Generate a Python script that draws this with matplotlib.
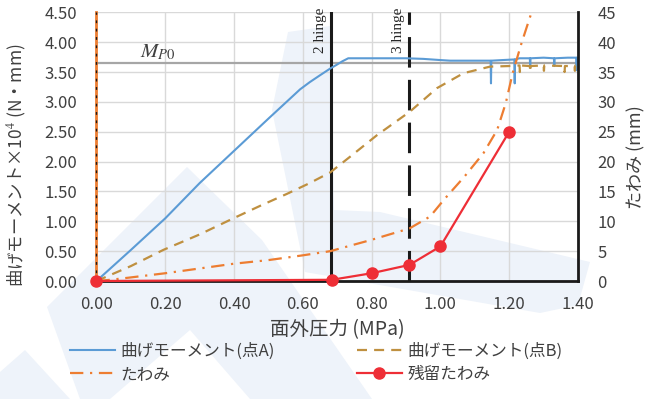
import matplotlib
matplotlib.use("Agg")
import matplotlib.pyplot as plt
from matplotlib.patches import Polygon
from matplotlib.lines import Line2D

plt.rcParams['font.family'] = ['Noto Sans CJK JP', 'DejaVu Sans']
plt.rcParams['mathtext.fontset'] = 'stix'

# ---------------- data ----------------
# 曲げモーメント (点A)  [x10^4 N・mm]
p_A = [0, 0.1, 0.2, 0.3, 0.4, 0.5, 0.592, 0.62, 0.651, 0.68, 0.698, 0.715, 0.732,
       0.80, 0.90, 0.95, 1.00, 1.028, 1.10, 1.146, 1.147, 1.148, 1.18, 1.215, 1.216, 1.217,
       1.23, 1.26, 1.261, 1.262, 1.30, 1.33, 1.331, 1.332, 1.37, 1.395, 1.396, 1.397, 1.40]
M_A = [0, 0.52, 1.05, 1.64, 2.18, 2.72, 3.21, 3.33, 3.45, 3.56, 3.62, 3.68, 3.73,
       3.73, 3.73, 3.72, 3.70, 3.69, 3.69, 3.69, 3.31, 3.69, 3.70, 3.71, 3.31, 3.71,
       3.73, 3.73, 3.57, 3.73, 3.74, 3.73, 3.60, 3.73, 3.74, 3.74, 3.53, 3.74, 3.73]

# 曲げモーメント (点B)
p_B = [0, 0.1, 0.194, 0.3, 0.398, 0.48, 0.554, 0.62, 0.68, 0.737, 0.815, 0.912, 0.99,
       1.067, 1.144, 1.20, 1.23, 1.231, 1.232, 1.26, 1.261, 1.262, 1.30, 1.301, 1.302,
       1.36, 1.361, 1.362, 1.39, 1.391, 1.392, 1.40]
M_B = [0, 0.25, 0.52, 0.78, 1.05, 1.27, 1.46, 1.64, 1.82, 2.08, 2.44, 2.84, 3.23,
       3.48, 3.59, 3.60, 3.61, 3.50, 3.61, 3.60, 3.50, 3.60, 3.61, 3.52, 3.61,
       3.60, 3.50, 3.60, 3.60, 3.52, 3.61, 3.60]

# たわみ [mm]
p_D = [0, 0.04, 0.1, 0.2, 0.3, 0.4, 0.5, 0.6, 0.68, 0.8, 0.91, 0.97, 1.01, 1.07,
       1.125, 1.165, 1.19, 1.21, 1.235, 1.265]
D = [0, 0.2, 0.6, 1.3, 2.1, 2.9, 3.5, 4.3, 5.0, 6.9, 8.8, 10.8, 13.6, 17.5,
     21.4, 25.3, 29.8, 34.8, 39.7, 45.0]

# 残留たわみ [mm]
p_R = [0, 0.684, 0.80, 0.91, 1.00, 1.20]
R = [0, 0.2, 1.3, 2.7, 5.8, 25.0]

hinge2 = 0.682
hinge3 = 0.91
Mp0 = 3.65

x_ticks = [0.0, 0.2, 0.4, 0.6, 0.8, 1.0, 1.2, 1.4]
y_ticks = [0, 0.5, 1.0, 1.5, 2.0, 2.5, 3.0, 3.5, 4.0, 4.5]
y2_ticks = [0, 5, 10, 15, 20, 25, 30, 35, 40, 45]

# ---------------- figure ----------------
W, H = 651, 399
fig = plt.figure(figsize=(W / 100, H / 100), dpi=100)

# faint watermark shapes in background (pixel coords)
wm = '#EEF3FA'
def px(poly):
    return [(x / W, 1 - y / H) for x, y in poly]
shapes = [
    [(272, 110), (288, 32), (330, 26), (334, 210), (380, 212), (590, 262), (578, 305), (540, 313), (305, 272)],
    [(47, 307), (187, 167), (262, 240), (372, 399), (250, 399), (190, 330), (110, 399), (80, 399)],
    [(0, 372), (25, 350), (70, 399), (0, 399)],
]
for s in shapes:
    fig.patches.append(Polygon(px(s), closed=True, transform=fig.transFigure,
                               facecolor=wm, edgecolor='none', zorder=-5))

ax = fig.add_axes([96.5 / W, 1 - 281 / H, (578 - 96.5) / W, (281 - 12.3) / H])
ax.set_facecolor('none')
ax2 = ax.twinx()

txt = '#404040'
ax.set_xlim(0, 1.4)
ax.set_ylim(0, 4.5)
ax2.set_ylim(0, 45)
ax.set_xticks(x_ticks)
ax.set_xticklabels([f'{v:.2f}' for v in x_ticks])
ax.set_yticks(y_ticks)
ax.set_yticklabels([f'{v:.2f}' for v in y_ticks])
ax2.set_yticks(y2_ticks)
ax2.set_yticklabels([str(v) for v in y2_ticks])

ax.grid(True, color='#D9D9D9', lw=1.0, zorder=0)
ax.set_axisbelow(True)
ax.tick_params(axis='x', length=0, pad=11, labelsize=12, labelcolor=txt)
ax.tick_params(axis='y', length=0, pad=14, labelsize=12, labelcolor=txt)
ax2.tick_params(axis='y', length=0, pad=14, labelsize=12, labelcolor=txt)

for a in (ax, ax2):
    for s in a.spines.values():
        s.set_visible(False)
ax2.spines['right'].set_visible(True)
ax2.spines['right'].set_color('#1a1a1a')
ax2.spines['right'].set_linewidth(2.0)
ax2.spines['bottom'].set_visible(True)
ax2.spines['bottom'].set_color('#1a1a1a')
ax2.spines['bottom'].set_linewidth(2.0)

# Mp0 line
ax.axhline(Mp0, color='#A6A6A6', lw=1.6, zorder=2)
ax.text(0.126, Mp0 + 0.02, r'$M_{P0}$', fontsize=15, color='#404040', va='bottom', ha='left')

# hinge lines
ax.axvline(hinge2, color='#1a1a1a', lw=2.2, zorder=3)
ax.axvline(hinge3, color='#1a1a1a', lw=2.2, dashes=(10, 4), zorder=3)
ax.text(hinge2 - 0.012, 4.57, '2 hinge', rotation=90, ha='right', va='top',
        fontsize=11, family='Liberation Serif', color='#262626', clip_on=False)
ax.text(hinge3 - 0.012, 4.57, '3 hinge', rotation=90, ha='right', va='top',
        fontsize=11, family='Liberation Serif', color='#262626', clip_on=False)

c_A = '#5B9BD5'
c_B = '#BF9040'
c_D = '#ED7D31'
c_R = '#EE2E36'

lA, = ax.plot(p_A, M_A, color=c_A, lw=1.5, zorder=4, label='曲げモーメント(点A)')
lB, = ax.plot(p_B, M_B, color=c_B, lw=1.6, dashes=(4.5, 3.2), zorder=4, label='曲げモーメント(点B)')

# left edge: initial deflection reading at zero pressure
ax2.plot([0, 0], [0, 45], color=c_D, lw=2.0, zorder=2, clip_on=False)
ax2.plot([0, 0], [0, 45], color='#1a1a1a', lw=1.0, dashes=(2, 4), zorder=3, clip_on=False)

lD, = ax2.plot(p_D, D, color=c_D, lw=1.6, dashes=(6, 3, 1, 3), zorder=4, label='たわみ')
lR, = ax2.plot(p_R, R, color=c_R, lw=1.6, marker='o', ms=8, zorder=5, clip_on=False,
               label='残留たわみ')

ax.set_xlabel('面外圧力 (MPa)', fontsize=14, color=txt, labelpad=4)
ax.set_ylabel('曲げモーメント×10$^4$ (N・mm)', fontsize=12.5, color=txt)
ax.yaxis.set_label_coords(-0.143, 0.43)
ax2.set_ylabel('たわみ (mm)', fontsize=13, color=txt)
ax2.yaxis.set_label_coords(1.103, 0.46)

leg = fig.legend([lA, lD, lB, lR], ['曲げモーメント(点A)', 'たわみ', '曲げモーメント(点B)', '残留たわみ'],
                 ncol=2, loc='upper left', bbox_to_anchor=(70 / W, 1 - 343 / H),
                 frameon=False, fontsize=12, handlelength=2.7, handletextpad=0.35,
                 columnspacing=4.9, labelspacing=0.35, borderpad=0, borderaxespad=0)
for t in leg.get_texts():
    t.set_color(txt)

fig.savefig('out.png', dpi=100)
